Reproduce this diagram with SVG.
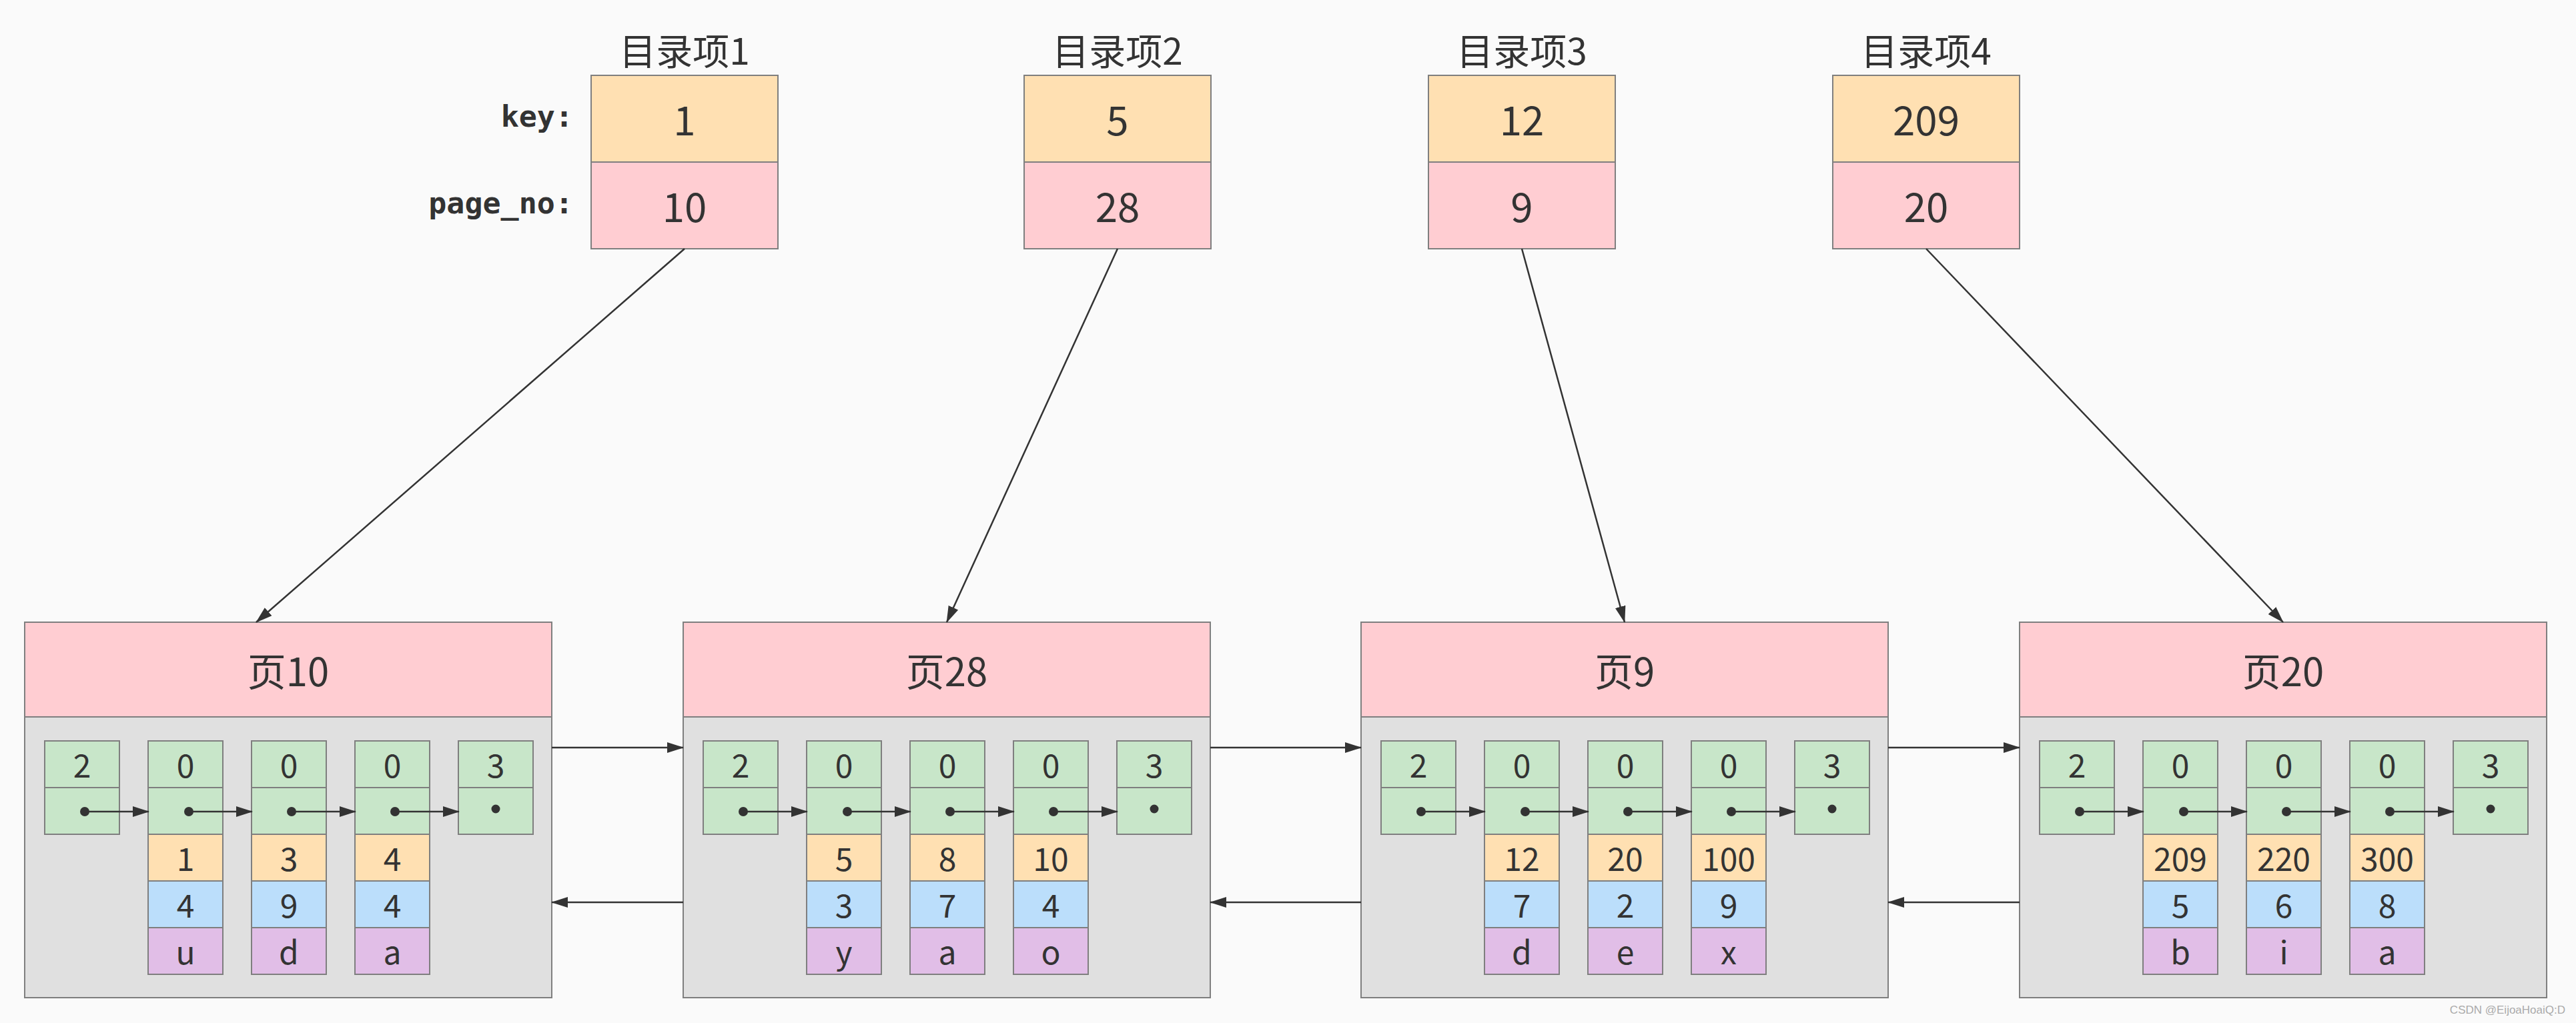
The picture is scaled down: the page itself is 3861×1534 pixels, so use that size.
<svg xmlns="http://www.w3.org/2000/svg" width="3861" height="1534" viewBox="0 0 3861 1534">
<defs>
<style>
.t{font-family:"Noto Sans CJK SC","Noto Sans",sans-serif;fill:#333;text-anchor:middle}
.c{font-size:48px}
.pt{font-size:58px}
.dt{font-size:55px}
.dv{font-size:60px}
.lbl{font-family:"DejaVu Sans Mono","Liberation Mono",monospace;font-weight:bold;font-size:45px;fill:#333;text-anchor:end}
.b{stroke:#7f7f7f;stroke-width:2}
.g{fill:#c8e6c9}.o{fill:#ffe0b2}.bl{fill:#bbdefb}.pu{fill:#e1bee7}.pk{fill:#ffcdd2}.gr{fill:#e0e0e0}
.ln{stroke:#333;stroke-width:2.5;fill:none;marker-end:url(#ah)}
.dot{fill:#333}
</style>
<marker id="ah" markerWidth="25" markerHeight="16" refX="24" refY="8" orient="auto" markerUnits="userSpaceOnUse"><path d="M0,0 L25,8 L0,16 z" fill="#333"/></marker>
</defs>
<rect width="3861" height="1534" fill="#fafafa"/>

<text class="lbl" x="859" y="190">key:</text>
<text class="lbl" x="859" y="320">page_no:</text>

<g id="dir1">
<text class="t dt" x="1026" y="97">目录项1</text>
<rect class="b o" x="886" y="113" width="280" height="130"/>
<rect class="b pk" x="886" y="243" width="280" height="130"/>
<text class="t dv" x="1026" y="203">1</text>
<text class="t dv" x="1026" y="333">10</text>
</g>
<g id="dir2">
<text class="t dt" x="1675" y="97">目录项2</text>
<rect class="b o" x="1535" y="113" width="280" height="130"/>
<rect class="b pk" x="1535" y="243" width="280" height="130"/>
<text class="t dv" x="1675" y="203">5</text>
<text class="t dv" x="1675" y="333">28</text>
</g>
<g id="dir3">
<text class="t dt" x="2281" y="97">目录项3</text>
<rect class="b o" x="2141" y="113" width="280" height="130"/>
<rect class="b pk" x="2141" y="243" width="280" height="130"/>
<text class="t dv" x="2281" y="203">12</text>
<text class="t dv" x="2281" y="333">9</text>
</g>
<g id="dir4">
<text class="t dt" x="2887" y="97">目录项4</text>
<rect class="b o" x="2747" y="113" width="280" height="130"/>
<rect class="b pk" x="2747" y="243" width="280" height="130"/>
<text class="t dv" x="2887" y="203">209</text>
<text class="t dv" x="2887" y="333">20</text>
</g>

<g id="page10" transform="translate(37,933)">
<rect class="b pk" x="0" y="0" width="790" height="142"/>
<rect class="b gr" x="0" y="142" width="790" height="421"/>
<text class="t pt" x="395" y="96">页10</text>
<g class="b g">
<rect x="30" y="178" width="112" height="70"/><rect x="30" y="248" width="112" height="70"/>
<rect x="185" y="178" width="112" height="70"/><rect x="185" y="248" width="112" height="70"/>
<rect x="340" y="178" width="112" height="70"/><rect x="340" y="248" width="112" height="70"/>
<rect x="495" y="178" width="112" height="70"/><rect x="495" y="248" width="112" height="70"/>
<rect x="650" y="178" width="112" height="70"/><rect x="650" y="248" width="112" height="70"/>
</g>
<g class="b o"><rect x="185" y="318" width="112" height="70"/><rect x="340" y="318" width="112" height="70"/><rect x="495" y="318" width="112" height="70"/></g>
<g class="b bl"><rect x="185" y="388" width="112" height="70"/><rect x="340" y="388" width="112" height="70"/><rect x="495" y="388" width="112" height="70"/></g>
<g class="b pu"><rect x="185" y="458" width="112" height="70"/><rect x="340" y="458" width="112" height="70"/><rect x="495" y="458" width="112" height="70"/></g>
<g class="t c">
<text x="86" y="233">2</text><text x="241" y="233">0</text><text x="396" y="233">0</text><text x="551" y="233">0</text><text x="706" y="233">3</text>
<text x="241" y="373">1</text><text x="396" y="373">3</text><text x="551" y="373">4</text>
<text x="241" y="443">4</text><text x="396" y="443">9</text><text x="551" y="443">4</text>
<text x="241" y="513">u</text><text x="396" y="513">d</text><text x="551" y="513">a</text>
</g>
<g class="dot"><circle cx="90" cy="284" r="7"/><circle cx="246" cy="284" r="7"/><circle cx="400" cy="284" r="7"/><circle cx="555" cy="284" r="7"/><circle cx="706" cy="280" r="6.5"/></g>
<g class="ln"><path d="M90,284 H186"/><path d="M246,284 H341"/><path d="M400,284 H496"/><path d="M555,284 H651"/></g>
</g>

<g id="page28" transform="translate(1024,933)">
<rect class="b pk" x="0" y="0" width="790" height="142"/>
<rect class="b gr" x="0" y="142" width="790" height="421"/>
<text class="t pt" x="395" y="96">页28</text>
<g class="b g">
<rect x="30" y="178" width="112" height="70"/><rect x="30" y="248" width="112" height="70"/>
<rect x="185" y="178" width="112" height="70"/><rect x="185" y="248" width="112" height="70"/>
<rect x="340" y="178" width="112" height="70"/><rect x="340" y="248" width="112" height="70"/>
<rect x="495" y="178" width="112" height="70"/><rect x="495" y="248" width="112" height="70"/>
<rect x="650" y="178" width="112" height="70"/><rect x="650" y="248" width="112" height="70"/>
</g>
<g class="b o"><rect x="185" y="318" width="112" height="70"/><rect x="340" y="318" width="112" height="70"/><rect x="495" y="318" width="112" height="70"/></g>
<g class="b bl"><rect x="185" y="388" width="112" height="70"/><rect x="340" y="388" width="112" height="70"/><rect x="495" y="388" width="112" height="70"/></g>
<g class="b pu"><rect x="185" y="458" width="112" height="70"/><rect x="340" y="458" width="112" height="70"/><rect x="495" y="458" width="112" height="70"/></g>
<g class="t c">
<text x="86" y="233">2</text><text x="241" y="233">0</text><text x="396" y="233">0</text><text x="551" y="233">0</text><text x="706" y="233">3</text>
<text x="241" y="373">5</text><text x="396" y="373">8</text><text x="551" y="373">10</text>
<text x="241" y="443">3</text><text x="396" y="443">7</text><text x="551" y="443">4</text>
<text x="241" y="513">y</text><text x="396" y="513">a</text><text x="551" y="513">o</text>
</g>
<g class="dot"><circle cx="90" cy="284" r="7"/><circle cx="246" cy="284" r="7"/><circle cx="400" cy="284" r="7"/><circle cx="555" cy="284" r="7"/><circle cx="706" cy="280" r="6.5"/></g>
<g class="ln"><path d="M90,284 H186"/><path d="M246,284 H341"/><path d="M400,284 H496"/><path d="M555,284 H651"/></g>
</g>

<g id="page9" transform="translate(2040,933)">
<rect class="b pk" x="0" y="0" width="790" height="142"/>
<rect class="b gr" x="0" y="142" width="790" height="421"/>
<text class="t pt" x="395" y="96">页9</text>
<g class="b g">
<rect x="30" y="178" width="112" height="70"/><rect x="30" y="248" width="112" height="70"/>
<rect x="185" y="178" width="112" height="70"/><rect x="185" y="248" width="112" height="70"/>
<rect x="340" y="178" width="112" height="70"/><rect x="340" y="248" width="112" height="70"/>
<rect x="495" y="178" width="112" height="70"/><rect x="495" y="248" width="112" height="70"/>
<rect x="650" y="178" width="112" height="70"/><rect x="650" y="248" width="112" height="70"/>
</g>
<g class="b o"><rect x="185" y="318" width="112" height="70"/><rect x="340" y="318" width="112" height="70"/><rect x="495" y="318" width="112" height="70"/></g>
<g class="b bl"><rect x="185" y="388" width="112" height="70"/><rect x="340" y="388" width="112" height="70"/><rect x="495" y="388" width="112" height="70"/></g>
<g class="b pu"><rect x="185" y="458" width="112" height="70"/><rect x="340" y="458" width="112" height="70"/><rect x="495" y="458" width="112" height="70"/></g>
<g class="t c">
<text x="86" y="233">2</text><text x="241" y="233">0</text><text x="396" y="233">0</text><text x="551" y="233">0</text><text x="706" y="233">3</text>
<text x="241" y="373">12</text><text x="396" y="373">20</text><text x="551" y="373">100</text>
<text x="241" y="443">7</text><text x="396" y="443">2</text><text x="551" y="443">9</text>
<text x="241" y="513">d</text><text x="396" y="513">e</text><text x="551" y="513">x</text>
</g>
<g class="dot"><circle cx="90" cy="284" r="7"/><circle cx="246" cy="284" r="7"/><circle cx="400" cy="284" r="7"/><circle cx="555" cy="284" r="7"/><circle cx="706" cy="280" r="6.5"/></g>
<g class="ln"><path d="M90,284 H186"/><path d="M246,284 H341"/><path d="M400,284 H496"/><path d="M555,284 H651"/></g>
</g>

<g id="page20" transform="translate(3027,933)">
<rect class="b pk" x="0" y="0" width="790" height="142"/>
<rect class="b gr" x="0" y="142" width="790" height="421"/>
<text class="t pt" x="395" y="96">页20</text>
<g class="b g">
<rect x="30" y="178" width="112" height="70"/><rect x="30" y="248" width="112" height="70"/>
<rect x="185" y="178" width="112" height="70"/><rect x="185" y="248" width="112" height="70"/>
<rect x="340" y="178" width="112" height="70"/><rect x="340" y="248" width="112" height="70"/>
<rect x="495" y="178" width="112" height="70"/><rect x="495" y="248" width="112" height="70"/>
<rect x="650" y="178" width="112" height="70"/><rect x="650" y="248" width="112" height="70"/>
</g>
<g class="b o"><rect x="185" y="318" width="112" height="70"/><rect x="340" y="318" width="112" height="70"/><rect x="495" y="318" width="112" height="70"/></g>
<g class="b bl"><rect x="185" y="388" width="112" height="70"/><rect x="340" y="388" width="112" height="70"/><rect x="495" y="388" width="112" height="70"/></g>
<g class="b pu"><rect x="185" y="458" width="112" height="70"/><rect x="340" y="458" width="112" height="70"/><rect x="495" y="458" width="112" height="70"/></g>
<g class="t c">
<text x="86" y="233">2</text><text x="241" y="233">0</text><text x="396" y="233">0</text><text x="551" y="233">0</text><text x="706" y="233">3</text>
<text x="241" y="373">209</text><text x="396" y="373">220</text><text x="551" y="373">300</text>
<text x="241" y="443">5</text><text x="396" y="443">6</text><text x="551" y="443">8</text>
<text x="241" y="513">b</text><text x="396" y="513">i</text><text x="551" y="513">a</text>
</g>
<g class="dot"><circle cx="90" cy="284" r="7"/><circle cx="246" cy="284" r="7"/><circle cx="400" cy="284" r="7"/><circle cx="555" cy="284" r="7"/><circle cx="706" cy="280" r="6.5"/></g>
<g class="ln"><path d="M90,284 H186"/><path d="M246,284 H341"/><path d="M400,284 H496"/><path d="M555,284 H651"/></g>
</g>

<g id="connectors" class="ln">
<path d="M1026,373 L384,933"/>
<path d="M1675,373 L1419,933"/>
<path d="M2281,373 L2435,933"/>
<path d="M2887,373 L3422,933"/>
<path d="M827,1121 H1024"/>
<path d="M1814,1121 H2040"/>
<path d="M2830,1121 H3027"/>
<path d="M1024,1353 H827"/>
<path d="M2040,1353 H1814"/>
<path d="M3027,1353 H2830"/>
</g>

<text x="3845" y="1520" font-family="'Liberation Sans',sans-serif" font-size="17" fill="#aaaaaa" text-anchor="end">CSDN @EijoaHoaiQ:D</text>
</svg>
